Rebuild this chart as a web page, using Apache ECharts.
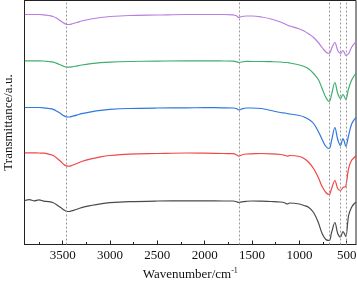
<!DOCTYPE html>
<html><head><meta charset="utf-8">
<script src="https://cdn.jsdelivr.net/npm/echarts@6/dist/echarts.min.js"></script>
<style>html,body{margin:0;padding:0;background:#fff}#c{width:357px;height:281px}</style>
</head><body><div id="c"></div>
<script>
// wavenumber grid (cm^-1)
const wavenumbers = [3900,3850,3800,3750,3700,3650,3600,3560,3520,3490,3460,3430,3400,3350,3300,3200,3100,3000,2800,2500,2200,2000,1800,1700,1660,1640,1610,1560,1500,1400,1300,1200,1150,1130,1100,1000,950,900,850,800,760,720,685,660,625,595,565,540,525,510,480,450,420,400];
// offset transmittance traces (a.u.)
const purple = [230,230,230,230,229.7,229,228,226,223.5,221.5,220.2,220,220.7,222,223.5,225.5,227,228,229,229.5,230,230,230,229.7,228.5,227,228,228.5,228.5,227.5,225.5,222.5,220.5,219.5,218.5,215.5,213.5,210.5,207,202,197,192.5,191,196,202,194,191,194,192,189,191,197,201,203];
const green = [183.7,183.7,183.7,183.7,183.5,183,182.4,181.1,179.5,178.3,177.4,177.3,177.7,178.6,179.5,180.8,181.8,182.4,183,183.4,183.7,183.7,183.5,183.3,182.7,182,182.5,183.2,183,183,182.8,182.5,182,182,181.5,179.5,178,175.5,171,165,156,147,143,150,162,151,146,150,148,145,156,164,169,171];
const blue = [137,137,137,137,136.7,136,135.1,133.2,130.8,128.9,127.7,127.5,128.2,129.4,130.8,132.7,134.2,135.1,136,136.5,136.7,136.8,136.7,136.5,135.7,134.5,135.5,136.5,136.5,136,134,132,131.5,131,130.5,129,127.5,125,121,113,105,98,96,104,117,105,99,106,103,98,109,120,125,127];
const red = [91.7,91.7,91.6,91.5,91.3,90.4,89,86.3,83,80.3,78.6,78.3,79.2,81,83,85.7,87.7,89,90.4,91,91.5,91.3,91,90.8,89.5,88.3,89.5,90.5,90.7,91,90.7,90,89,88.3,89,88,86,82,76,67,58,52,50,56,64,56,54,57,57.5,58,76,84,87,89];
const black = [44,44.8,43.6,44.6,43.4,42.9,41.8,39.6,36.9,34.7,33.2,33,33.8,35.2,36.9,39,40.7,41.8,42.9,43.5,43.7,43.7,43.5,43.5,42.7,42,42.7,43.2,43.5,43.3,43,42.5,41.5,40.5,41.5,40.5,39,37,32,22,11,5,4,12,22,11,7.5,13,11,8,29,37,41,42];
const seriesNames = ['S5','S4','S3','S2','S1'];
const seriesColors = ['#b77fe0','#3daf6e','#2f78e0','#f04848','#4a4a4a'];
const majorTicks = [500,1000,1500,2000,2500,3000,3500];
const minorTicks = [750,1250,1750,2250,2750,3250,3750];
const markedBands = [3460,1640,687,565,510];

const traces = [purple, green, blue, red, black];
const font = 'Liberation Serif, Times New Roman, serif';
const chart = echarts.init(document.getElementById('c'));
const series = traces.map((vals, i) => ({
  name: seriesNames[i], type: 'line', xAxisIndex: 0, showSymbol: false, smooth: 0.35,
  lineStyle: {color: seriesColors[i], width: 1.2}, itemStyle: {color: seriesColors[i]},
  data: wavenumbers.map((w, k) => [w, vals[k]]),
  markLine: i === 0 ? {silent: true, symbol: 'none', label: {show: false},
    lineStyle: {color: '#999', type: [2, 2], width: 1},
    data: markedBands.map(b => ({xAxis: b}))} : undefined
}));
chart.setOption({
  animation: false,
  grid: {left: 24.5, right: 1, top: 0.5, bottom: 36.5, show: true, borderColor: '#222', borderWidth: 1,
    containLabel: false, outerBoundsMode: 'none'},
  xAxis: [{
    type: 'value', inverse: true, min: 402, max: 3903,
    name: 'Wavenumber/cm{sup|-1}', nameLocation: 'middle', nameGap: 20,
    nameTextStyle: {fontFamily: font, fontSize: 13, color: '#111',
      rich: {sup: {fontFamily: font, fontSize: 8, color: '#111', verticalAlign: 'top', padding: [0, 0, 7, 0]}}},
    splitLine: {show: false},
    axisLine: {lineStyle: {color: '#222', width: 1}},
    axisTick: {inside: true, length: 4, customValues: majorTicks, lineStyle: {color: '#222'}},
    axisLabel: {customValues: majorTicks, margin: 5, fontFamily: font, fontSize: 13, color: '#111',
      formatter: v => String(v)}
  }, {
    type: 'value', inverse: true, min: 402, max: 3903, position: 'bottom',
    axisLine: {show: false}, splitLine: {show: false},
    axisTick: {inside: true, length: 2.5, customValues: minorTicks, lineStyle: {color: '#222'}},
    axisLabel: {show: false}
  }],
  yAxis: {
    type: 'value', min: 0, max: 244,
    name: 'Transmittance/a.u.', nameLocation: 'middle', nameGap: 9,
    nameTextStyle: {fontFamily: font, fontSize: 13, color: '#111'},
    axisLine: {show: true, lineStyle: {color: '#222', width: 1}},
    axisTick: {show: false}, axisLabel: {show: false}, splitLine: {show: false}
  },
  series: series
});
</script></body></html>
